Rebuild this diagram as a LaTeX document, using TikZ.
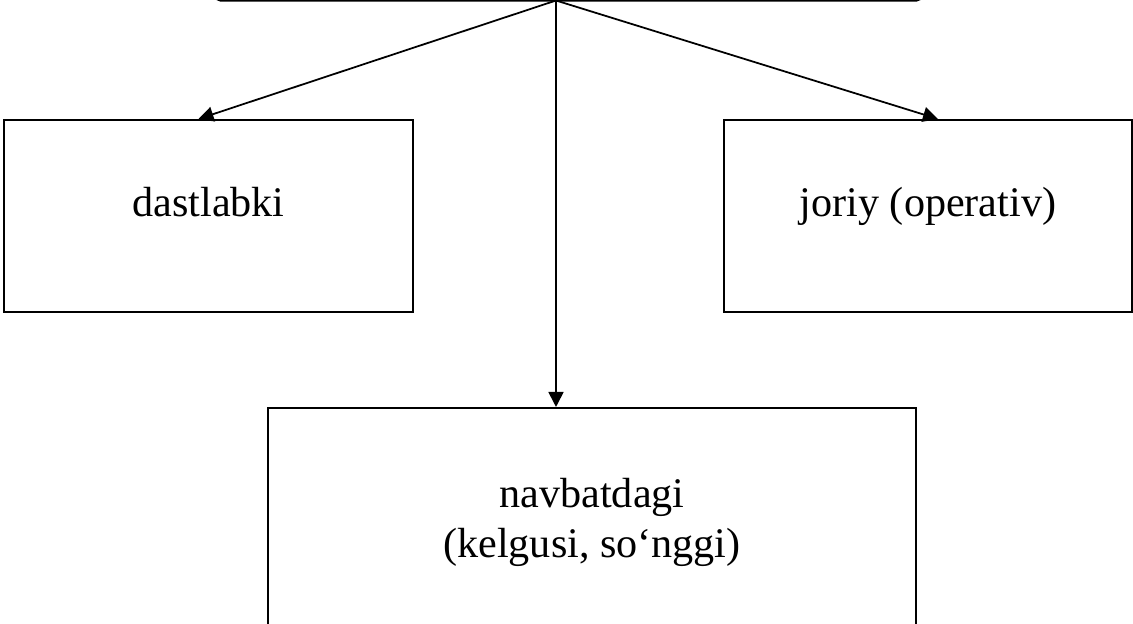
\documentclass[tikz,border=0pt]{standalone}
\usepackage{fontspec}
\setmainfont{Liberation Serif}
\usepackage{tikz}
\usetikzlibrary{arrows.meta,positioning}

\begin{document}
\begin{tikzpicture}[
    x=0.02cm, y=-0.02cm,
    box/.style={rectangle, draw=black, line width=1.2pt, fill=white, inner sep=0pt,
                align=center, font=\fontsize{24}{28.5}\selectfont},
    oneline/.style={text height=0.45em, text depth=0.35em},
    topbox/.style={rectangle, rounded corners=3pt, draw=black, line width=1.2pt, inner sep=0pt},
    arr/.style={-{Triangle[length=3mm, width=3mm]}, black, line width=1pt}]
\useasboundingbox (0,0) rectangle (1133,623);
\clip (0,0) rectangle (1133,623);
\node[topbox, minimum width=14.14cm, minimum height=2.4cm] (top) at (568.5,-59.5) {};
\node[box, oneline, minimum width=8.18cm, minimum height=3.84cm] (lbox) at (208.5,216) {dastlabki};
\node[box, oneline, minimum width=8.16cm, minimum height=3.84cm] (rbox) at (928,216) {joriy (operativ)};
\node[box, minimum width=12.96cm, minimum height=4.56cm] (bbox) at (592,522) {navbatdagi\\(kelgusi, so‘nggi)};
\coordinate (apex) at (556,0.5);
\draw[arr] (apex) -- ([xshift=-0.2cm]lbox.north);
\draw[arr] (apex) -- ([xshift=0.2cm]rbox.north);
\draw[arr] (apex) -- (apex |- bbox.north);
\end{tikzpicture}
\end{document}
